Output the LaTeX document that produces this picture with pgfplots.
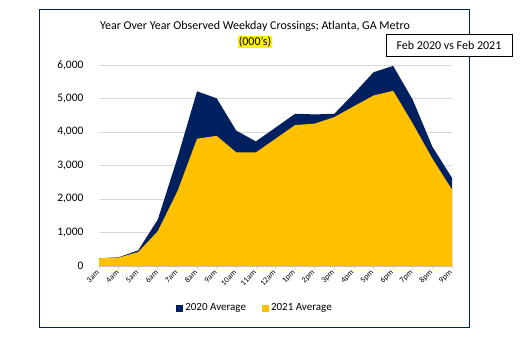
\documentclass[border=0pt]{standalone}
\usepackage{fontspec}
\setmainfont{Carlito}
\usepackage{pgfplots}
\pgfplotsset{compat=1.18}
\definecolor{navy}{HTML}{002060}
\definecolor{gold}{HTML}{FFC000}
\definecolor{gridgray}{HTML}{D9D9D9}
\pgfplotstableread{
x y2020 y2021
0 230 230
1 260 250
2 467 417
3 1390 1042
4 3226 2232
5 5215 3800
6 5005 3885
7 4040 3392
8 3720 3390
9 4130 3800
10 4545 4208
11 4525 4250
12 4545 4445
13 5150 4770
14 5785 5090
15 5973 5230
16 4960 4250
17 3560 3205
18 2630 2280
}\datatable
\begin{document}
\begin{tikzpicture}[x=1pt,y=1pt]
\path[use as bounding box] (0,0) rectangle (528,338);
\draw[navy, line width=0.9pt] (39,11) rectangle (469,329);
\begin{axis}[
  at={(99pt,72pt)}, anchor=south west, scale only axis,
  width=353pt, height=201pt,
  xmin=0, xmax=18, ymin=0, ymax=6000,
  xtick={0,...,18},
  xticklabels={3am,4am,5am,6am,7am,8am,9am,10am,11am,12am,1pm,2pm,3pm,4pm,5pm,6pm,7pm,8pm,9pm},
  ytick={0,1000,...,6000},
  axis line style={draw=none},
  ymajorgrids, grid style={gridgray, line width=0.7pt},
  tick align=outside, major tick length=3pt,
  xtick style={draw=gridgray, line width=0.7pt},
  ytick style={draw=none},
  tick pos=left,
  /pgf/number format/assume math mode=true,
  yticklabel style={font=\fontsize{11.5}{13}\selectfont, xshift=-9pt},
  xticklabel style={font=\fontsize{8}{9}\selectfont, rotate=45, anchor=east, xshift=1pt, yshift=-1pt},
  legend style={at={(0.442,-0.209)}, anchor=center, draw=none, fill=none,
    font=\fontsize{11}{13}\selectfont, legend columns=2,
    /tikz/every even column/.append style={column sep=14pt}},
  legend image code/.code={\fill (0pt,-3.5pt) rectangle (7pt,3.5pt);},
  clip=false,
]
\addplot[fill=navy, draw=none] table[x=x, y=y2020] {\datatable} \closedcycle;
\addlegendentry{2020 Average}
\addplot[fill=gold, draw=none] table[x=x, y=y2021] {\datatable} \closedcycle;
\addlegendentry{2021 Average}
\end{axis}
\node[font=\fontsize{12}{14}\selectfont] at (255,312) {Year Over Year Observed Weekday Crossings; Atlanta, GA Metro};
\node[font=\fontsize{12}{14}\selectfont, fill=yellow, inner sep=0.3pt] at (255,296) {(000’s)};
\node[draw=black, fill=white, line width=0.8pt, minimum width=126pt, minimum height=22pt, inner sep=0pt, font=\fontsize{12}{14}\selectfont] at (449,293) {Feb 2020 vs Feb 2021};
\end{tikzpicture}
\end{document}
